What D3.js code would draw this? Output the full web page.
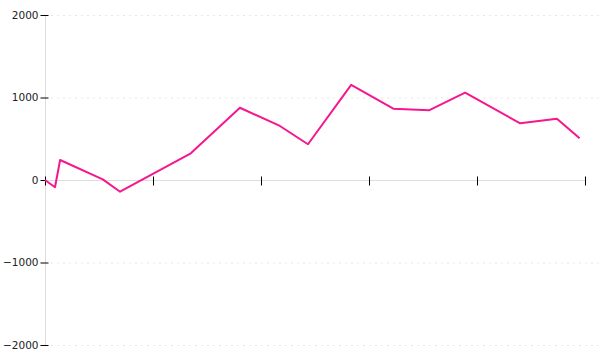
<!DOCTYPE html>
<html>
<head>
<meta charset="utf-8">
<script src="https://cdn.jsdelivr.net/npm/d3@7"></script>
<style>
  html, body { margin: 0; padding: 0; background: #fff; }
  svg { display: block; }
</style>
</head>
<body>
<svg id="chart" width="600" height="360"></svg>
<script>
// Data
const xValues = [0, 1.85, 2.8, 10.7, 13.9, 27, 36.1, 43.5, 48.7, 56.7, 64.5, 71.1, 77.8, 88, 94.8, 99];
const yValues = [0, -88, 242, 8, -142, 323, 876, 655, 433, 1152, 865, 845, 1058, 687, 743, 505];
const xTicks = [0, 20, 40, 60, 80, 100];
const yTicks = [-2000, -1000, 0, 1000, 2000];

const svg = d3.select("#chart");
const margin = { left: 45, right: 15, top: 15, bottom: 15 };
const W = 600, H = 360;

const x = d3.scaleLinear().domain([0, 100]).range([margin.left, W - margin.right]);
const y = d3.scaleLinear().domain([-2000, 2000]).range([H - margin.bottom, margin.top]);

// grid lines
svg.append("g")
  .selectAll("line")
  .data(yTicks.filter(d => d !== 0))
  .join("line")
  .attr("x1", margin.left + 6)
  .attr("x2", W)
  .attr("y1", d => y(d) + 0.5)
  .attr("y2", d => y(d) + 0.5)
  .attr("stroke", "#e6e6e6")
  .attr("stroke-dasharray", "2,4");

// y axis
const yAxis = svg.append("g")
  .attr("transform", `translate(${margin.left + 0.5},0)`)
  .call(d3.axisLeft(y).tickValues(yTicks).tickSize(0).tickPadding(7).tickFormat(d3.format("d")));
yAxis.select(".domain").attr("stroke", "#dddddd").attr("d", `M0,${y(2000)}V${y(-2000)}`);
yAxis.selectAll(".tick line").attr("x1", -5).attr("x2", 3).attr("stroke", "#000");
yAxis.selectAll(".tick text")
  .attr("font-family", "DejaVu Sans, sans-serif")
  .attr("font-size", 10.5)
  .attr("fill", "#222")
  .text(d => d < 0 ? "\u2212" + Math.abs(d) : d);

// x axis at y=0
const xAxis = svg.append("g")
  .attr("transform", `translate(0,${Math.round(y(0)) + 0.5})`)
  .call(d3.axisBottom(x).tickValues(xTicks).tickSize(0).tickFormat(""));
xAxis.select(".domain").attr("stroke", "#dddddd").attr("d", `M${x(0)},0H${x(100)}`);
xAxis.selectAll(".tick line").attr("y1", -4).attr("y2", 5).attr("stroke", "#000");
xAxis.selectAll(".tick").attr("transform", d => `translate(${Math.round(x(d)) + 0.5},0)`);

// line
const pts = xValues.map((d, i) => [d, yValues[i]]);
svg.append("path")
  .datum(pts)
  .attr("fill", "none")
  .attr("stroke", "#f5178e")
  .attr("stroke-width", 2)
  .attr("stroke-linejoin", "round")
  .attr("d", d3.line().x(d => x(d[0])).y(d => y(d[1])));
</script>
</body>
</html>
